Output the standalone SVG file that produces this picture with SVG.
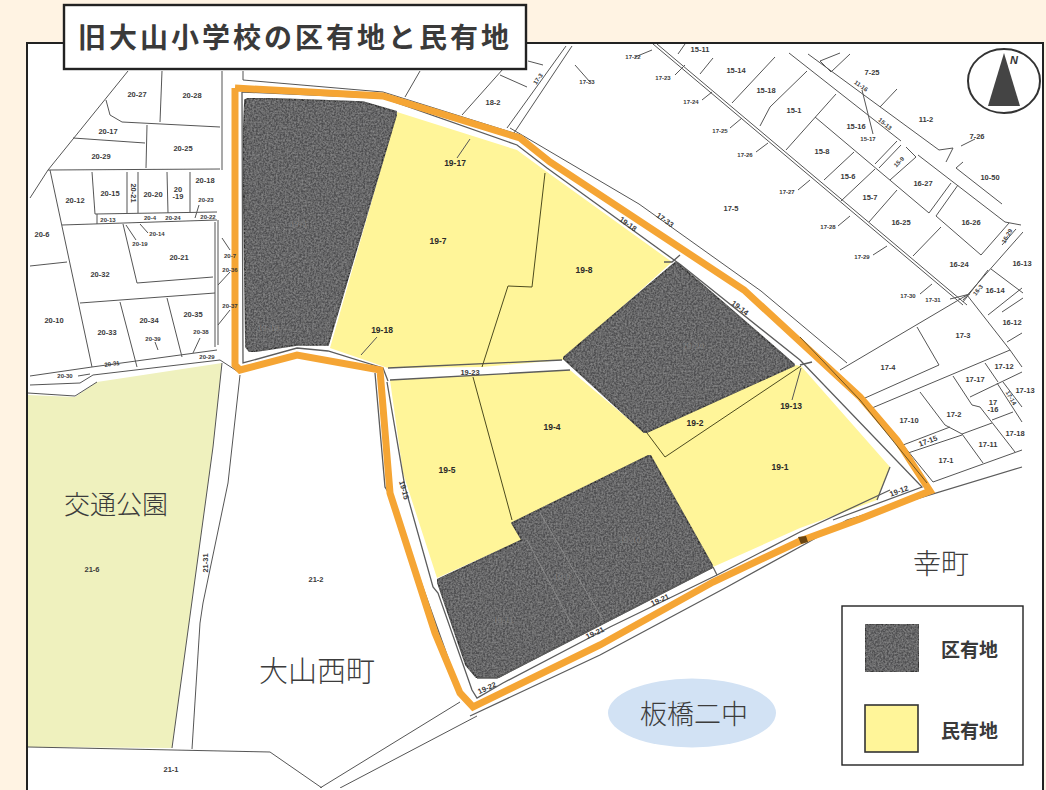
<svg xmlns="http://www.w3.org/2000/svg" width="1046" height="790" viewBox="0 0 1046 790">
<style>
.t{font-family:"Liberation Sans",Arial,sans-serif;font-size:7.5px;font-weight:700;fill:#3a3a3a;text-anchor:middle;dominant-baseline:central}
.s{font-size:6px}
.m{font-size:8.5px;fill:#2a2a2a}
.d{fill:#7c7c7c;font-weight:400}
.l{fill:none;stroke:#555;stroke-width:1}
.g{fill:none;stroke:#5c5c5c;stroke-width:1.3}
.o{fill:none;stroke:#f5a534;stroke-width:7;stroke-linejoin:miter}
.y{fill:#fff599}
.k{fill:#4f4f51;stroke:#2d2d2d;stroke-width:1.7;stroke-linejoin:round;filter:url(#noise)}
.b{font-family:"Noto Sans CJK JP","Noto Sans",sans-serif;font-weight:300;font-size:26px;fill:#3c3c3c;text-anchor:middle;dominant-baseline:central}
.h{font-family:"Noto Sans CJK JP","Noto Sans",sans-serif;font-weight:700;fill:#3a3a3a;dominant-baseline:central}
</style>
<defs>
<filter id="noise" x="0" y="0" width="100%" height="100%">
<feTurbulence type="fractalNoise" baseFrequency="0.55" numOctaves="2" seed="4" result="n"/>
<feColorMatrix in="n" type="matrix" values="0 0 0 0 0.42  0 0 0 0 0.42  0 0 0 0 0.42  0 0 0 0.9 -0.28" result="c"/>
<feComposite in="c" in2="SourceGraphic" operator="in" result="c2"/>
<feMerge><feMergeNode in="SourceGraphic"/><feMergeNode in="c2"/></feMerge>
</filter>
<filter id="soft" x="0" y="0" width="100%" height="100%"><feGaussianBlur stdDeviation="0.3"/></filter>
</defs>
<rect width="1046" height="790" fill="#fff3e3"/>
<rect id="map-frame" x="27" y="43" width="1016" height="750" fill="#fff" stroke="#222" stroke-width="2"/>
<g id="park"><polygon points="28,395 75,397 97,382 222,363 213,447 172,748 28,747" fill="#eff1be"/></g>

<g id="parcels-private">
<polygon class="y" points="397,112 517,150 547,172 672,262 563,360 482,367 388,368 330,348"/>
<polygon class="y" points="390,380 570,370 645,433 795,365 801,366 890,467 877,500 800,528 713,567 650,455 512,523 522,540 437,578 403,473"/>
</g>
<g id="parcels-ward">
<polygon class="k" points="245,100 250,98 363,102 397,112 328,345 297,345 250,352 246,347 243,147"/>
<polygon class="k" points="563,358 676,262 795,365 645,433"/>
<polygon class="k" points="512,523 650,455 713,567 497,678 477,678 466,665 437,580 522,540"/>
</g>

<g id="connectors" filter="url(#soft)">
<g class="l">
<polyline points="128,71 48,170 30,198"/>
<polyline points="106,100 110,115 122,122 220,127"/>
<polyline points="162,71 160,122"/>
<polyline points="222,71 222,170"/>
<polyline points="147,125 146,168"/>
<polyline points="73,138 145,143"/>
<polyline points="48,170 220,169"/>
<polyline points="50,170 92,367"/>
<polyline points="92,172 95,214"/>
<polyline points="127,172 127,213"/>
<polyline points="138,172 138,213"/>
<polyline points="167,172 168,213"/>
<polyline points="190,172 190,212"/>
<polyline points="95,214 217,212"/>
<polyline points="62,225 217,220"/>
<polyline points="97,214 97,224"/>
<polyline points="215,222 215,347"/>
<polyline points="218,220 218,345"/>
<polyline points="123,224 137,283 213,277"/>
<polyline points="80,303 215,293"/>
<polyline points="30,266 67,262"/>
<polyline points="120,302 137,367"/>
<polyline points="167,298 182,357"/>
<polyline points="30,376 92,367 217,350"/>
<polyline points="30,385 80,383 93,375 220,360 240,373"/>
<polyline points="28,393 75,396 97,382"/>
<polyline points="222,363 213,447 172,748"/>
<polyline points="240,375 228,483 203,603 200,623 192,749"/>
<polyline points="28,747 270,752 322,788"/>
<polyline points="460,702 320,788"/>
<polyline points="477,716 340,788"/>
<polyline points="243,71 243,80 383,92 520,135"/>
<polyline points="507,128 566,46"/>
<polyline points="514,133 572,46"/>
<polyline points="462,115 503,69"/>
<polyline points="405,97 420,71"/>
<polyline points="528,61 543,65"/>
<polyline points="527,87 500,75"/>
<polyline points="510,128 639,204 761,291 847,363"/>
<polyline points="657,44 967,305"/>
<polyline points="653,44 963,305"/>
<polyline points="678,54 685,44"/>
<polyline points="700,74 713,58"/>
<polyline points="732,103 775,57"/>
<polyline points="760,126 770,107 807,71"/>
<polyline points="786,150 836,94"/>
<polyline points="789,53 901,141"/>
<polyline points="808,54 939,150 953,148 946,162"/>
<polyline points="880,107 897,89"/>
<polyline points="956,168 1002,204"/>
<polyline points="956,168 963,162"/>
<polyline points="918,155 1005,222 1021,225"/>
<polyline points="815,117 929,213 951,183"/>
<polyline points="854,152 824,180"/>
<polyline points="875,169 841,201"/>
<polyline points="897,190 869,222"/>
<polyline points="958,185 936,216 981,255 1009,223"/>
<polyline points="941,227 913,256"/>
<polyline points="1023,232 963,300"/>
<polyline points="1016,229 1002,245"/>
<polyline points="991,269 1023,293"/>
<polyline points="1023,298 1002,312"/>
<polyline points="988,270 963,302"/>
<polyline points="875,164 897,141"/>
<polyline points="879,168 901,145"/>
<polyline points="890,180 916,157 906,147"/>
<polyline points="820,61 840,53"/>
<polyline points="831,72 850,54"/>
<polyline points="820,61 831,72"/>
<polyline points="840,370 967,295 1010,350 1022,367"/>
<polyline points="917,327 939,365 865,398"/>
<polyline points="988,315 1022,288"/>
<polyline points="1007,342 1022,333"/>
<polyline points="872,408 1010,350"/>
<polyline points="920,392 945,425 962,434 983,463"/>
<polyline points="953,376 972,405 980,407 1015,452"/>
<polyline points="985,363 998,382"/>
<polyline points="970,397 1022,372"/>
<polyline points="997,383 1022,422"/>
<polyline points="1003,382 1022,407"/>
<polyline points="1013,412 992,420"/>
<polyline points="962,434 992,423"/>
<polyline points="903,445 950,427"/>
<polyline points="908,453 962,435"/>
<polyline points="933,482 1022,450"/>
<polyline points="903,445 933,482"/>
<polyline points="575,65 590,82"/>
<polyline points="652,50 635,57"/>
<polyline points="685,65 675,75"/>
<polyline points="712,92 702,100"/>
<polyline points="742,118 730,128"/>
<polyline points="768,143 756,152"/>
<polyline points="810,180 798,190"/>
<polyline points="850,216 838,226"/>
<polyline points="887,246 873,255"/>
<polyline points="932,284 920,294"/>
<polyline points="970,294 950,299"/>
<polyline points="126,225 136,240"/>
<polyline points="140,224 148,233"/>
<polyline points="222,238 230,250"/>
<polyline points="218,285 230,272"/>
<polyline points="218,325 230,310"/>
<polyline points="193,353 200,338"/>
<polyline points="158,350 155,342"/>
<polyline points="195,218 199,205"/>
<polyline points="78,376 90,374"/>
<polyline points="361,355 377,337"/>
<polyline points="457,158 470,139"/>
<polyline points="792,400 801,368"/>
<polyline points="961,146 975,139"/>
<polyline points="873,134 862,90"/>
</g>
<g class="g">
<polyline points="242,92 383,98 517,145 547,168 681,265 800,360 922,487 833,520"/>
<polyline points="242,92 243,363 297,348 328,351 383,368 388,381"/>
<polyline points="388,368 562,360"/>
<polyline points="390,380 570,370"/>
<polyline points="387,382 405,487 433,587 438,593 472,690 477,698 503,683 610,627 717,575 800,532 890,490"/>
<polyline points="375,373 385,487 390,495 463,700"/>
<polyline points="470,716 600,655 727,587 807,543 847,520 1022,467"/>
<polyline points="713,567 717,575"/>
<polyline points="890,467 877,500"/>
<polyline points="477,678 497,678 713,567"/>
<polyline points="800,365 812,362"/>
<polyline points="664,262 672,262 680,255"/>
</g>
<g fill="none" stroke="#4d4b1f" stroke-width="1">
<polyline points="545,173 532,287 508,286 482,367"/>
<polyline points="473,377 512,520"/>
<polyline points="647,433 665,457 801,366"/>
</g>
<g fill="none" stroke="#8c8c8c" stroke-width="0.9">
<polyline points="540,513 603,620"/>
<polyline points="527,540 573,627"/>
</g>
</g>
<g id="school-outline" fill="none">
<polyline class="o" points="235,88 383,96 520,138 550,162 744,290 860,397 897,440 930,491 860,519 800,541 713,582 600,645 473,707 460,693 435,633 390,493 380,370 297,355 240,370 235,365 235,88"/>
<polyline points="800,337 860,400 927,483" stroke="#5c4a20" stroke-width="0.9"/>
<polygon points="798,537 806,536 808,542 801,544" fill="#6a4510"/>
</g>

<g id="labels">
<text class="t" x="137" y="94">20-27</text><text class="t" x="192" y="95">20-28</text>
<text class="t" x="108" y="131">20-17</text><text class="t" x="183" y="148">20-25</text>
<text class="t" x="101" y="156">20-29</text><text class="t" x="75" y="200">20-12</text>
<text class="t" x="110" y="193">20-15</text><text class="t" transform="rotate(90 133 193)" x="133" y="193">20-21</text>
<text class="t" x="153" y="194">20-20</text><text class="t" x="178" y="189">20</text><text class="t" x="178" y="196">-19</text>
<text class="t" x="205" y="180">20-18</text><text class="t s" x="206" y="200">20-23</text>
<text class="t s" x="108" y="220">20-13</text><text class="t s" x="150" y="218">20-4</text>
<text class="t s" x="173" y="218">20-24</text><text class="t s" x="208" y="217">20-22</text>
<text class="t s" x="157" y="234">20-14</text><text class="t s" x="140" y="244">20-19</text>
<text class="t" x="42" y="234">20-6</text><text class="t" x="179" y="257">20-21</text>
<text class="t" x="100" y="274">20-32</text><text class="t s" x="230" y="256">20-7</text>
<text class="t s" x="230" y="270">20-36</text><text class="t s" x="230" y="306">20-37</text>
<text class="t" x="54" y="320">20-10</text><text class="t" x="107" y="332">20-33</text>
<text class="t" x="149" y="320">20-34</text><text class="t" x="193" y="314">20-35</text>
<text class="t s" x="153" y="339">20-39</text><text class="t s" x="201" y="332">20-38</text>
<text class="t s" x="207" y="357">20-29</text><text class="t s" x="65" y="376">20-30</text>
<text class="t s" transform="rotate(-8 112 364)" x="112" y="364">20-31</text>

<text class="t m" x="455" y="163">19-17</text><text class="t m" x="438" y="241">19-7</text>
<text class="t m" x="584" y="270">19-8</text><text class="t m" x="382" y="330">19-18</text>
<text class="t" transform="rotate(35 628 224)" x="628" y="224">19-18</text>
<text class="t" transform="rotate(35 665 220)" x="665" y="220">17-33</text>
<text class="t" transform="rotate(37 740 308)" x="740" y="308">19-14</text>
<text class="t" x="470" y="372">19-23</text>
<text class="t m" x="552" y="427">19-4</text><text class="t m" x="447" y="470">19-5</text>
<text class="t m" x="695" y="423">19-2</text><text class="t m" x="791" y="406">19-13</text>
<text class="t m" x="780" y="467">19-1</text>
<text class="t" transform="rotate(-20 899 491)" x="899" y="491">19-12</text>
<text class="t" transform="rotate(75 404 490)" x="404" y="490">19-15</text>
<text class="t" transform="rotate(-25 487 688)" x="487" y="688">19-22</text>
<text class="t" transform="rotate(-25 660 600)" x="660" y="600">19-21</text>
<text class="t" transform="rotate(-25 595 633)" x="595" y="633">19-21</text>
<text class="t m d" x="298" y="224">19-3</text><text class="t m d" x="268" y="328">19-19</text>
<text class="t m d" x="693" y="346">19-20</text><text class="t m d" x="630" y="540">19-10</text>
<text class="t m d" x="562" y="577">19-9</text><text class="t m d" x="503" y="620">19-11</text>

<text class="t" x="700" y="49">15-11</text><text class="t s" x="633" y="57">17-22</text>
<text class="t s" x="663" y="78">17-23</text><text class="t" x="736" y="70">15-14</text>
<text class="t" x="766" y="90">15-18</text><text class="t s" x="691" y="102">17-24</text>
<text class="t" x="794" y="110">15-1</text><text class="t s" x="720" y="131">17-25</text>
<text class="t s" x="745" y="155">17-26</text><text class="t" x="822" y="151">15-8</text>
<text class="t" x="856" y="126">15-16</text><text class="t s" x="868" y="139">15-17</text>
<text class="t" x="848" y="176">15-6</text>
<text class="t s" transform="rotate(-45 899 162)" x="899" y="162">15-9</text>
<text class="t" x="923" y="183">16-27</text><text class="t s" x="787" y="192">17-27</text>
<text class="t" x="870" y="197">15-7</text><text class="t" x="731" y="208">17-5</text>
<text class="t" x="901" y="222">16-25</text><text class="t" x="971" y="222">16-26</text>
<text class="t" x="990" y="177">10-50</text><text class="t" x="872" y="72">7-25</text>
<text class="t s" transform="rotate(35 861 86)" x="861" y="86">11-16</text>
<text class="t" x="926" y="119">11-2</text><text class="t" x="977" y="136">7-26</text>
<text class="t s" transform="rotate(40 885 124)" x="885" y="124">15-13</text>
<text class="t s" x="828" y="227">17-28</text><text class="t s" x="862" y="257">17-29</text>
<text class="t" x="959" y="264">16-24</text><text class="t" x="1022" y="263">16-13</text>
<text class="t s" transform="rotate(-60 1007 236)" x="1007" y="236">16-29</text>
<text class="t s" x="908" y="296">17-30</text>
<text class="t s" transform="rotate(-50 978 290)" x="978" y="290">16-3</text>
<text class="t" x="995" y="290">16-14</text><text class="t s" x="933" y="300">17-31</text>
<text class="t" x="493" y="102">18-2</text><text class="t s" x="587" y="82">17-33</text>
<text class="t s" transform="rotate(-55 538 79)" x="538" y="79">17-3</text>

<text class="t" x="963" y="335">17-3</text><text class="t" x="1012" y="322">16-12</text>
<text class="t" x="888" y="367">17-4</text><text class="t" x="1004" y="366">17-12</text>
<text class="t" x="975" y="379">17-17</text><text class="t" x="1025" y="390">17-13</text>
<text class="t s" transform="rotate(60 1011 398)" x="1011" y="398">17-14</text>
<text class="t" x="993" y="402">17</text><text class="t" x="993" y="409">-16</text>
<text class="t" x="909" y="420">17-10</text><text class="t" x="954" y="414">17-2</text>
<text class="t" transform="rotate(-20 928 441)" x="928" y="441">17-15</text>
<text class="t" x="988" y="444">17-11</text><text class="t" x="1015" y="433">17-18</text>
<text class="t" x="946" y="460">17-1</text>

<text class="t" x="171" y="769">21-1</text><text class="t" x="316" y="579">21-2</text>
<text class="t" x="92" y="569">21-6</text>
<text class="t" transform="rotate(-90 205 563)" x="205" y="563">21-31</text>
</g>

<g id="area-names">
<text class="b" x="116" y="502">交通公園</text>
<text class="b" x="317" y="669" style="font-size:29px">大山西町</text>
<text class="b" x="941" y="562" style="font-size:28px">幸町</text>
</g>
<g id="school-2"><ellipse cx="692" cy="713" rx="84" ry="34.5" fill="#d2e2f4"/><text class="b" x="694" y="712" style="font-size:27px">板橋二中</text></g>

<g id="north-arrow">
<ellipse cx="1004" cy="81" rx="36" ry="32" fill="#fff" stroke="#333" stroke-width="2"/>
<polygon points="1004,53 988,106 1020,106" fill="#444"/>
<text x="1014" y="60" font-family="Liberation Sans,sans-serif" font-size="11" font-weight="700" font-style="italic" fill="#333" text-anchor="middle" dominant-baseline="central">N</text>
</g>

<g id="legend">
<rect x="842" y="606" width="181" height="159" fill="#fff" stroke="#222" stroke-width="1.4"/>
<rect class="k" x="865" y="624" width="54" height="48"/>
<rect x="865" y="705" width="53" height="47" fill="#fff599" stroke="#333" stroke-width="1.6"/>
<text class="h" x="941" y="648" font-size="19">区有地</text>
<text class="h" x="941" y="729" font-size="19">民有地</text>
</g>

<g id="title">
<rect x="64" y="5" width="462" height="64" fill="#fff" stroke="#222" stroke-width="2.4"/>
<text class="h" x="78" y="36" font-size="28" letter-spacing="3" fill="#2a2a2a">旧大山小学校の区有地と民有地</text>
</g>
</svg>
